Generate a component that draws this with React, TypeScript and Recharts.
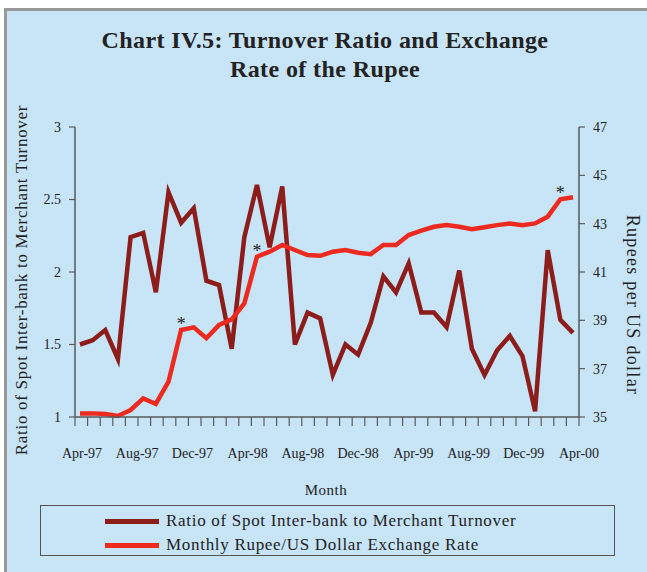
import { LineChart, Line, XAxis, YAxis, LabelList } from 'recharts';

// 40 monthly observations, Apr-97 onwards
const months = [
  'Apr-97', 'May-97', 'Jun-97', 'Jul-97', 'Aug-97', 'Sep-97', 'Oct-97', 'Nov-97', 'Dec-97',
  'Jan-98', 'Feb-98', 'Mar-98', 'Apr-98', 'May-98', 'Jun-98', 'Jul-98', 'Aug-98', 'Sep-98',
  'Oct-98', 'Nov-98', 'Dec-98', 'Jan-99', 'Feb-99', 'Mar-99', 'Apr-99', 'May-99', 'Jun-99',
  'Jul-99', 'Aug-99', 'Sep-99', 'Oct-99', 'Nov-99', 'Dec-99', 'Jan-00', 'Feb-00', 'Mar-00',
  'Apr-00', 'May-00', 'Jun-00', 'Jul-00',
];

const turnoverRatio = [
  1.50, 1.53, 1.60, 1.40, 2.24, 2.27, 1.86, 2.55, 2.34, 2.44,
  1.94, 1.91, 1.47, 2.24, 2.60, 2.17, 2.59, 1.50, 1.72, 1.68,
  1.29, 1.50, 1.43, 1.65, 1.97, 1.86, 2.06, 1.72, 1.72, 1.62,
  2.01, 1.47, 1.29, 1.46, 1.56, 1.42, 1.04, 2.15, 1.67, 1.58,
];

const exchangeRate = [
  35.15, 35.15, 35.12, 35.04, 35.29, 35.77, 35.54, 36.46, 38.60, 38.71,
  38.26, 38.81, 39.04, 39.70, 41.63, 41.84, 42.12, 41.91, 41.70, 41.67,
  41.84, 41.91, 41.80, 41.74, 42.12, 42.12, 42.53, 42.71, 42.87, 42.94,
  42.87, 42.77, 42.85, 42.94, 43.01, 42.94, 43.01, 43.29, 44.01, 44.09,
];

// points flagged with an asterisk on the exchange rate line
const starredPoints = [8, 14, 38];

const tickLabels = ['Apr-97', 'Aug-97', 'Dec-97', 'Apr-98', 'Aug-98', 'Dec-98', 'Apr-99', 'Aug-99', 'Dec-99', 'Apr-00'];
const ratioTicks = [1, 1.5, 2, 2.5, 3];
const rateTicks = [35, 37, 39, 41, 43, 45, 47];

const seriesNames = ['Ratio of Spot Inter-bank to Merchant Turnover', 'Monthly Rupee/US Dollar Exchange Rate'];
const seriesColors = ['#8c1d1a', '#ec2a1f'];

const data = months.map((m, i) => ({
  month: m,
  idx: i,
  ratio: turnoverRatio[i],
  rate: exchangeRate[i],
  star: starredPoints.includes(i) ? '*' : undefined,
}));

const minorTicks = Array.from({ length: 41 }, (_, i) => i);
const labelPositions = tickLabels.map((_, i) => i);

const serif = '"Liberation Serif", "DejaVu Serif", serif';
const axisColor = '#5a5a5a';
const tickStyle = { fontSize: 14, fill: '#222', fontFamily: serif };

export default function App() {
  return (
    <div style={{ position: 'absolute', left: 0, top: 0, width: 647, height: 572, background: '#fff', overflow: 'hidden', fontFamily: serif }}>
      <div style={{ position: 'absolute', left: 4, top: 8, right: 0, bottom: 0, background: '#c8e4f7', borderLeft: '3px solid #9a9a9a', borderTop: '3px solid #9a9a9a' }} />

      <div style={{ position: 'absolute', left: 0, top: 26, width: 650, textAlign: 'center', fontSize: 24, fontWeight: 700, lineHeight: '29px', letterSpacing: 0.4, color: '#222' }}>
        Chart IV.5: Turnover Ratio and Exchange
        <br />
        Rate of the Rupee
      </div>

      <div style={{ position: 'absolute', left: 0, top: 0 }}>
        <LineChart width={647} height={470} data={data} margin={{ top: 127, right: 0, bottom: 13, left: 0 }}>
          <XAxis
            xAxisId="axis"
            dataKey="idx"
            type="number"
            domain={[0, 40]}
            ticks={minorTicks}
            allowDataOverflow
            interval={0}
            height={10}
            tickSize={9}
            tickFormatter={() => ''}
            tick={{ fontSize: 1 }}
            stroke={axisColor}
            axisLine={{ stroke: axisColor, strokeWidth: 1.5 }}
            tickLine={{ stroke: axisColor, strokeWidth: 1.2 }}
          />
          <XAxis xAxisId="data" dataKey="idx" type="number" domain={[0, months.length - 1]} padding={{ left: 5, right: 6 }} height={0} hide />
          <XAxis
            xAxisId="labels"
            dataKey="idx"
            type="number"
            domain={[0, tickLabels.length - 1]}
            ticks={labelPositions}
            allowDataOverflow
            interval={0}
            height={30}
            padding={{ left: 7, right: 0 }}
            axisLine={false}
            tickLine={false}
            tickSize={0}
            tickMargin={21}
            tickFormatter={(v) => tickLabels[v]}
            tick={tickStyle}
          />
          <YAxis
            yAxisId="left"
            orientation="left"
            width={75}
            domain={[1, 3]}
            ticks={ratioTicks}
            tickSize={6}
            tickMargin={8}
            axisLine={{ stroke: axisColor, strokeWidth: 1.5 }}
            tickLine={{ stroke: axisColor, strokeWidth: 1.2 }}
            tick={tickStyle}
          />
          <YAxis
            yAxisId="right"
            orientation="right"
            width={68}
            domain={[35, 47]}
            ticks={rateTicks}
            tickSize={6}
            tickMargin={8}
            axisLine={{ stroke: axisColor, strokeWidth: 1.5 }}
            tickLine={{ stroke: axisColor, strokeWidth: 1.2 }}
            tick={tickStyle}
          />
          <Line xAxisId="data" yAxisId="left" dataKey="ratio" stroke={seriesColors[0]} strokeWidth={4.5} dot={false} isAnimationActive={false} />
          <Line xAxisId="data" yAxisId="right" dataKey="rate" stroke={seriesColors[1]} strokeWidth={4.5} dot={false} isAnimationActive={false}>
            <LabelList dataKey="star" position="top" offset={0} fill="#222" fontSize={18} fontFamily={serif} />
          </Line>
        </LineChart>
      </div>

      <div style={{ position: 'absolute', left: 22, top: 280, transform: 'translate(-50%, -50%) rotate(-90deg)', whiteSpace: 'nowrap', fontSize: 17, letterSpacing: 0.7, color: '#222' }}>
        Ratio of Spot Inter-bank to Merchant Turnover
      </div>
      <div style={{ position: 'absolute', left: 632, top: 305, transform: 'translate(-50%, -50%) rotate(90deg)', whiteSpace: 'nowrap', fontSize: 18, letterSpacing: 1.3, color: '#222' }}>
        Rupees per US dollar
      </div>
      <div style={{ position: 'absolute', left: 326, top: 490, transform: 'translate(-50%, -50%)', fontSize: 15, letterSpacing: 0.5, color: '#222' }}>
        Month
      </div>

      <div style={{ position: 'absolute', left: 40, top: 505, width: 575, height: 51, border: '1px solid #555', boxSizing: 'border-box' }}>
        {seriesNames.map((name, i) => (
          <div key={name} style={{ position: 'absolute', left: 64, top: 5 + i * 24, height: 20, display: 'flex', alignItems: 'center', whiteSpace: 'nowrap' }}>
            <span style={{ display: 'inline-block', width: 54, height: 5, background: seriesColors[i], marginRight: 7 }} />
            <span style={{ fontSize: 17, letterSpacing: 0.7, color: '#222' }}>{name}</span>
          </div>
        ))}
      </div>
    </div>
  );
}
